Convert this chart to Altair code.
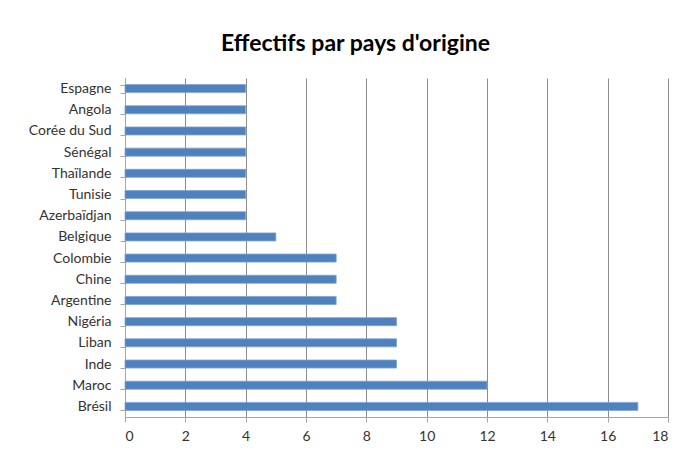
import altair as alt
import pandas as pd

pays = ["Espagne", "Angola", "Corée du Sud", "Sénégal", "Thaïlande", "Tunisie",
        "Azerbaïdjan", "Belgique", "Colombie", "Chine", "Argentine", "Nigéria",
        "Liban", "Inde", "Maroc", "Brésil"]
effectifs = [4, 4, 4, 4, 4, 4, 4, 5, 7, 7, 7, 9, 9, 9, 12, 17]
x_ticks = [0, 2, 4, 6, 8, 10, 12, 14, 16, 18]

df = pd.DataFrame({"pays": pays, "effectif": effectifs})

chart = alt.Chart(df).mark_bar(color="#4F81BD", stroke="#7FA3D3", strokeWidth=0.8).encode(
    y=alt.Y("pays:N", sort=pays, title=None,
            scale=alt.Scale(paddingInner=0.62, paddingOuter=0.31),
            axis=alt.Axis(tickBand="extent", tickSize=5, tickColor="#A6A6A6",
                          domainColor="#A6A6A6", labelPadding=9, labelFontSize=14,
                          labelColor="#333333", labelFont="Lato", grid=False)),
    x=alt.X("effectif:Q", title=None,
            scale=alt.Scale(domain=[0, 18], nice=False),
            axis=alt.Axis(values=x_ticks, tickSize=5, tickColor="#A6A6A6",
                          domainColor="#A6A6A6", gridColor="#8C8C8C", gridWidth=1,
                          labelPadding=7, labelFontSize=14, labelColor="#333333",
                          labelFont="Lato")),
).properties(
    width=543, height=339,
    title=alt.TitleParams("Effectifs par pays d'origine", font="Lato", fontSize=23,
                          fontWeight="bold", color="#000000", anchor="middle",
                          dx=-41, offset=15),
    autosize=alt.AutoSizeParams(type="none"),
    padding={"left": 117, "top": 70, "right": 8, "bottom": 36},
).configure_view(stroke=None)

chart.save("out.html", embed_options={"renderer": "svg", "actions": False})
